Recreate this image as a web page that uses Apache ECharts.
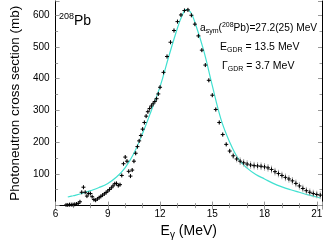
<!DOCTYPE html>
<html><head><meta charset="utf-8">
<script src="https://cdn.jsdelivr.net/npm/echarts@6/dist/echarts.min.js"></script>
<style>html,body{margin:0;padding:0;background:#fff}#c{width:327px;height:245px}</style>
</head><body><div id="c"></div>
<script>
// Measured photoneutron cross section (mb) vs E_gamma (MeV)
const dataE = [6.6,6.7,6.8,6.9,7.0,7.1,7.2,7.3,7.4,7.5,7.6,7.7,7.8,7.9,8.0,8.1,8.2,8.3,8.4,8.5,8.6,8.7,8.8,8.9,9.0,9.1,9.2,9.3,9.4,9.5,9.6,9.7,9.8,9.9,10.0,10.1,10.2,10.3,10.4,10.5,10.6,10.7,10.8,10.9,11.0,11.1,11.2,11.3,11.4,11.5,11.6,11.7,11.8,11.9,
  12.0,12.2,12.4,12.6,12.8,13.0,13.2,13.4,13.6,13.8,14.0,14.2,14.4,14.6,14.8,15.0,15.2,15.4,15.6,15.8,16.0,16.2,16.4,16.6,16.8,17.0,17.2,17.4,17.6,17.8,18.0,18.2,18.4,18.6,18.8,19.0,19.2,19.4,19.6,19.8,20.0,20.2,20.4,20.6,20.8,21.0,21.2];
const dataSigma = [2,2,3,3,3,4,5,7,12,42,58,42,30,38,38,28,19,17,21,25,29,33,37,41,46,51,56,62,69,70,63,66,95,132,153,140,108,93,112,140,165,186,204,221,241,262,282,296,306,314,321,328,337,352,
  373,420,470,515,552,580,601,615,617,600,572,535,490,443,395,348,303,262,224,193,172,157,147,140,135,131,128,126,125,124,122,119,114,107,101,95,89,84,78,70,62,54,47,42,38,35,33];
const dataErr = [2,2,2,2,2,2,2,2,4,4,4,4,4,4,4,4,4,4,4,4,4,4,4,4,4,4,4,4,4,4,4,4,4,4,6,6,6,6,6,6,6,6,6,6,6,6,6,7,8,8,8,8,7,6,
  6,6,6,6,6,6,6,6,6,6,6,6,6,6,6,6,6,6,6,6,8,10,11,12,12,12,12,12,12,12,12,12,12,12,12,12,12,12,12,12,12,12,12,12,12,12,12];
// Lorentzian GDR fit curve
const fitE = [6.7,7.0,7.5,8.0,8.5,9.0,9.5,10.0,10.5,11.0,11.5,12.0,12.5,13.0,13.25,13.5,13.75,14.0,14.5,15.0,15.5,16.0,16.5,17.0,17.5,18.0,18.5,19.0,19.5,20.0,20.5,21.0,21.2];
const fitSigma = [27,31,38,47,57,70,90,120,165,228,300,375,470,560,597,618,610,578,490,378,272,200,147,118,98,84,70,59,50,42,34,27,24];
const xTicks = [6,9,12,15,18,21];
const yTicks = [100,200,300,400,500,600];

const chart = echarts.init(document.getElementById('c'), null, {renderer:'canvas'});
const FONT = 'Liberation Sans, Arial, Helvetica, sans-serif';
const tickGray = '#9a9a9a';
const pts = dataE.map((e,i)=>[e, dataSigma[i], dataErr[i]]);
const fit = fitE.map((e,i)=>[e, fitSigma[i]]);

function axisCommon(){
  return {
    axisLine:{show:true, lineStyle:{color:'#000', width:1}},
    axisTick:{show:true, inside:true, length:4, lineStyle:{color:tickGray, width:1}},
    minorTick:{show:true, length:2.5, lineStyle:{color:tickGray, width:1}},
    splitLine:{show:false}
  };
}
const option = {
  animation:false,
  grid:{left:43, right:5, top:1, bottom:33},
  xAxis:[
    Object.assign(axisCommon(), {type:'value', min:6, max:21.3, interval:3, position:'bottom',
      minorTick:{show:true, splitNumber:3, length:2.5, lineStyle:{color:tickGray}},
      axisLabel:{show:true, margin:4, fontSize:10, color:'#000', fontFamily:FONT,
        formatter:v=> xTicks.indexOf(Math.round(v*1000)/1000)>=0 && Math.abs(v-Math.round(v))<1e-6 ? String(v) : ''},
      name:'E{s|γ} (MeV)', nameLocation:'middle', nameGap:14,
      nameTextStyle:{fontSize:14, color:'#000', fontFamily:FONT, verticalAlign:'top',
        rich:{s:{fontSize:10, fontFamily:FONT, color:'#000', padding:[7,0,0,0]}}}
    }),
    Object.assign(axisCommon(), {type:'value', min:6, max:21.3, interval:3, position:'top',
      minorTick:{show:true, splitNumber:3, length:2.5, lineStyle:{color:tickGray}},
      axisLabel:{show:false}})
  ],
  yAxis:[
    Object.assign(axisCommon(), {type:'value', min:0, max:645, interval:100, position:'left',
      minorTick:{show:true, splitNumber:2, length:2.5, lineStyle:{color:tickGray}},
      axisLabel:{show:true, margin:6, fontSize:10, color:'#000', fontFamily:FONT,
        formatter:v=> yTicks.indexOf(v)>=0 ? String(v) : ''},
      name:'Photoneutron cross section (mb)', nameLocation:'middle', nameGap:29, nameRotate:90,
      nameTextStyle:{fontSize:13.5, color:'#000', fontFamily:FONT}
    }),
    Object.assign(axisCommon(), {type:'value', min:0, max:645, interval:100, position:'right',
      minorTick:{show:true, splitNumber:2, length:2.5, lineStyle:{color:tickGray}},
      axisLabel:{show:false}})
  ],
  series:[
    {type:'line', data:fit, smooth:0.4, symbol:'none', xAxisIndex:0, yAxisIndex:0,
      lineStyle:{color:'#40e0d0', width:1.2}, z:3},
    {type:'custom', xAxisIndex:0, yAxisIndex:0, data:pts, z:4,
      renderItem:function(params, api){
        const x = api.value(0), y = api.value(1), e = api.value(2);
        const p = api.coord([x,y]);
        const lo = api.coord([x,y-e]);
        const hi = api.coord([x,y+e]);
        return {type:'group', children:[
          {type:'line', shape:{x1:p[0], y1:hi[1], x2:p[0], y2:lo[1]}, style:{stroke:'#a8a8a8', lineWidth:1}},
          {type:'line', shape:{x1:p[0]-2, y1:p[1], x2:p[0]+2, y2:p[1]}, style:{stroke:'#000', lineWidth:1}},
          {type:'line', shape:{x1:p[0], y1:p[1]-2, x2:p[0], y2:p[1]+2}, style:{stroke:'#000', lineWidth:1}}
        ]};
      }
    }
  ],
  graphic:[
    {type:'text', x:59, y:21, style:{text:'{sup|208}{n|Pb}', align:'left', verticalAlign:'middle', rich:{
      sup:{fontSize:9, fontFamily:FONT, fill:'#000', padding:[0,0,9,0]},
      n:{fontSize:14, fontFamily:FONT, fill:'#000'}}}},
    {type:'text', x:200, y:28, style:{text:'{n|a}{sub|sym}{n|(}{sup|208}{n|Pb)=27.2(25) MeV}', align:'left', verticalAlign:'middle', rich:{
      n:{fontSize:10.2, fontFamily:FONT, fill:'#000'},
      sub:{fontSize:7, fontFamily:FONT, fill:'#000', padding:[6,0,0,0]},
      sup:{fontSize:7, fontFamily:FONT, fill:'#000', padding:[0,0,6,0]}}}},
    {type:'text', x:220, y:47, style:{text:'{n|E}{sub|GDR}{n| = 13.5 MeV}', align:'left', verticalAlign:'middle', rich:{
      n:{fontSize:10.5, fontFamily:FONT, fill:'#000'},
      sub:{fontSize:7, fontFamily:FONT, fill:'#000', padding:[6,0,0,0]}}}},
    {type:'text', x:222, y:66, style:{text:'{n|Γ}{sub|GDR}{n| = 3.7 MeV}', align:'left', verticalAlign:'middle', rich:{
      n:{fontSize:10.5, fontFamily:FONT, fill:'#000'},
      sub:{fontSize:7, fontFamily:FONT, fill:'#000', padding:[6,0,0,0]}}}}
  ]
};
chart.setOption(option);
</script></body></html>
